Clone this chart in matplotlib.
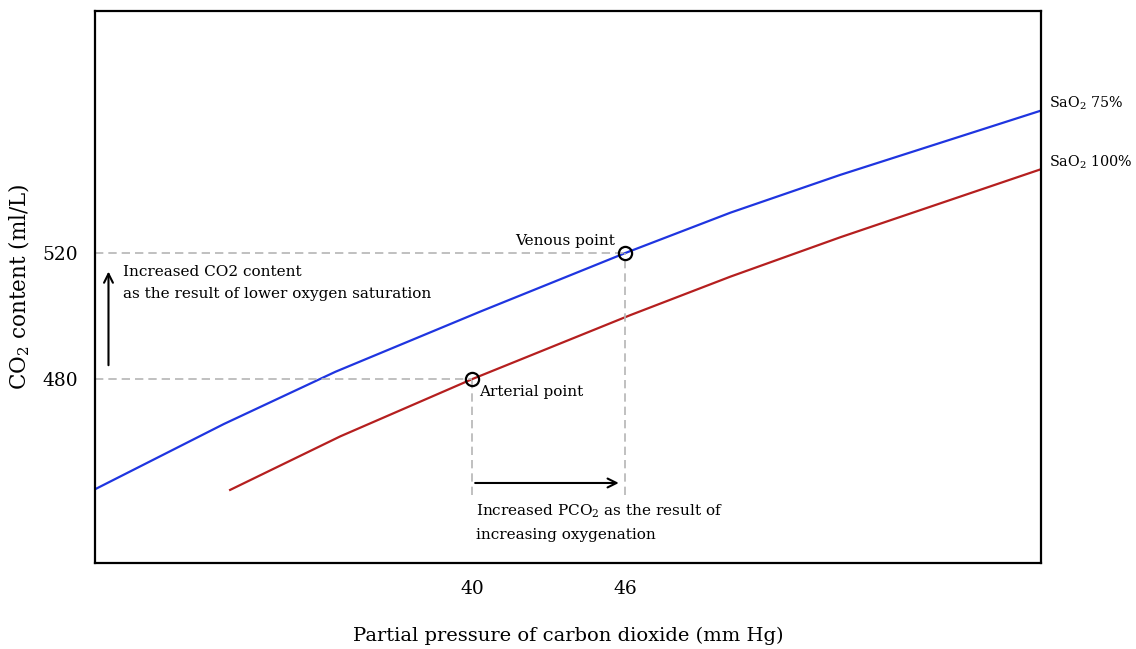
"""
CO2 dissociation curves for two oxygen saturations (Haldane effect),
with the arterial and venous points marked.
"""
import matplotlib
matplotlib.use('Agg')
import matplotlib.pyplot as plt

# Curves (PCO2 in mm Hg, CO2 content in ml/L).
pco2_sao2_75 = [25.2, 30.25, 34.63, 40.31, 46.0, 50.12, 54.43, 62.3]
co2_sao2_75 = [445.0, 465.7, 482.3, 501.4, 520.0, 532.8, 544.8, 565.2]
pco2_sao2_100 = [30.5, 34.82, 40.0, 46.2, 50.12, 54.43, 62.3]
co2_sao2_100 = [444.8, 461.8, 480.0, 500.3, 512.5, 525.0, 546.6]

arterial = (40, 480)
venous = (46, 520)
x_ticks = [40, 46]
y_ticks = [480, 520]

plt.rcParams['font.family'] = ['DejaVu Serif']
plt.rcParams['mathtext.fontset'] = 'dejavuserif'

fig = plt.figure(figsize=(11.36, 6.49), dpi=100)
ax = fig.add_axes([0.0836, 0.1325, 0.8328, 0.8505])

ax.plot(pco2_sao2_75, co2_sao2_75, color='#1f35e0', linewidth=1.6)
ax.plot(pco2_sao2_100, co2_sao2_100, color='#b51f1f', linewidth=1.6)

# Guide lines to the axes.
grey = '#b5b5b5'
dash = (0, (5, 3))
ax.plot([25.2, venous[0]], [venous[1], venous[1]], ls=dash, color=grey, lw=1.2)
ax.plot([25.2, arterial[0]], [arterial[1], arterial[1]], ls=dash, color=grey, lw=1.2)
ax.plot([arterial[0], arterial[0]], [443.2, arterial[1]], ls=dash, color=grey, lw=1.2)
ax.plot([venous[0], venous[0]], [443.2, venous[1]], ls=dash, color=grey, lw=1.2)

ax.plot(*arterial, 'o', mfc='none', mec='black', ms=9.5, mew=1.6)
ax.plot(*venous, 'o', mfc='none', mec='black', ms=9.5, mew=1.6)

# Arrows
ax.annotate('', xy=(25.73, 515), xytext=(25.73, 483.5),
            arrowprops=dict(arrowstyle='->', color='black', lw=1.5,
                            mutation_scale=16))
ax.annotate('', xy=(45.85, 447), xytext=(40.0, 447),
            arrowprops=dict(arrowstyle='->', color='black', lw=1.5,
                            mutation_scale=16))

ax.text(26.3, 516.3, 'Increased CO2 content\nas the result of lower oxygen saturation',
        fontsize=11, va='top', ha='left', linespacing=1.75)
ax.text(45.6, 521.5, 'Venous point', fontsize=11, ha='right', va='bottom')
ax.text(40.25, 478.0, 'Arterial point', fontsize=11, ha='left', va='top')
ax.text(40.15, 440.8, 'Increased PCO$_2$ as the result of\nincreasing oxygenation',
        fontsize=11, ha='left', va='top', linespacing=1.7)

ax.annotate('SaO$_2$ 75%', xy=(pco2_sao2_75[-1], co2_sao2_75[-1]),
            xytext=(6, 5), textcoords='offset points', fontsize=10.3,
            va='center', ha='left', annotation_clip=False)
ax.annotate('SaO$_2$ 100%', xy=(pco2_sao2_100[-1], co2_sao2_100[-1]),
            xytext=(6, 5), textcoords='offset points', fontsize=10.3,
            va='center', ha='left', annotation_clip=False)

ax.set_xlim(25.2, 62.3)
ax.set_ylim(421.6, 596.8)
ax.set_xticks(x_ticks)
ax.set_yticks(y_ticks)
ax.tick_params(length=0, labelsize=13.4, pad=12)
for s in ax.spines.values():
    s.set_linewidth(1.6)

ax.set_xlabel('Partial pressure of carbon dioxide (mm Hg)', fontsize=14, labelpad=21)
ax.set_ylabel('CO$_2$ content (ml/L)', fontsize=15.5, labelpad=8)

fig.savefig('out.png', dpi=100)
